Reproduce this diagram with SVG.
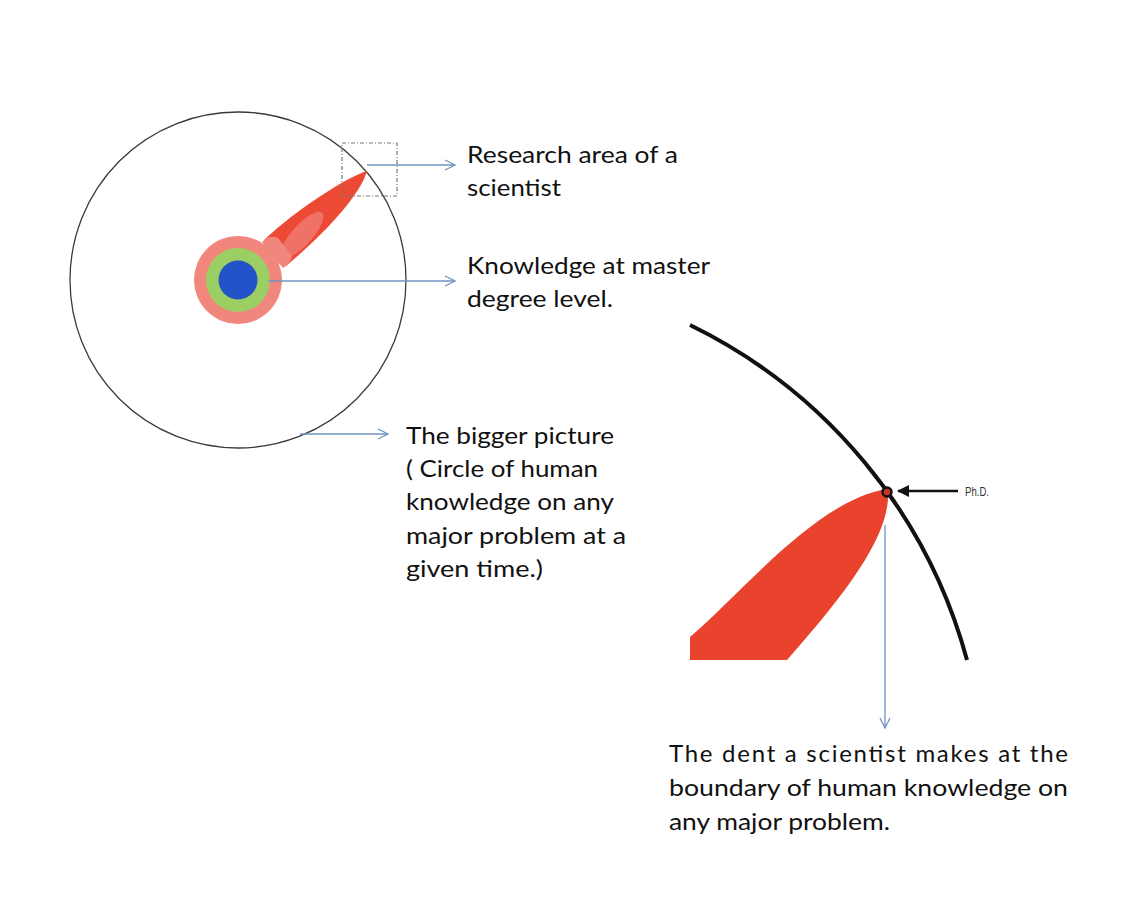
<svg xmlns="http://www.w3.org/2000/svg" width="1147" height="911" viewBox="0 0 1147 911">
<defs>
<style>
.lbl{font-family:Lato,"Open Sans","Liberation Sans",sans-serif;font-size:24px;fill:#111}
.conn{stroke:#6F93BF;stroke-width:1.3;fill:none}
</style>
<marker id="open" viewBox="0 0 12 12" refX="11" refY="6" markerWidth="12" markerHeight="12" markerUnits="userSpaceOnUse" orient="auto">
<path d="M1 1 L11 6 L1 11" fill="none" stroke="#6F93BF" stroke-width="1.3"/>
</marker>
<marker id="solid" viewBox="0 0 12 12" refX="11" refY="6" markerWidth="12" markerHeight="12" markerUnits="userSpaceOnUse" orient="auto">
<path d="M0 0 L12 6 L0 12 Z" fill="#111"/>
</marker>
</defs>
<rect width="1147" height="911" fill="#fff"/>

<g id="big-circle">
<circle cx="238" cy="280" r="168" fill="none" stroke="#3a3a3a" stroke-width="1.3"/>
</g>

<g id="research-beam">
<path d="M367 171 C350 176 300 206 264 240 Q270 262 286 266 C322 236 360 196 367 171 Z" fill="#EC4A35"/>
<ellipse cx="302" cy="235" rx="30" ry="10" transform="rotate(-48 302 235)" fill="#F07167"/>
</g>

<g id="master-knowledge">
<path d="M262 242 Q270 234 278 238 L292 256 Q290 264 283 268 Z" fill="#F1877C"/>
<circle cx="238" cy="280" r="44" fill="#F1877C"/>
<circle cx="238" cy="280" r="32" fill="#9BCF64"/>
<circle cx="238" cy="280" r="19.5" fill="#2452C9"/>
</g>

<g id="research-area-box">
<rect x="342" y="143" width="55" height="53" fill="none" stroke="#777" stroke-width="1.2" stroke-dasharray="4 2 1 2"/>
</g>

<g id="boundary-zoom">
<path d="M690 325 A525.5 525.5 0 0 1 967 660" fill="none" stroke="#111" stroke-width="4"/>
<path d="M690 637 C745 590 815 502 886 489 Q891 491 888 496 C888 540 840 600 787 660 L690 660 Z" fill="#E9432E"/>
<circle cx="887" cy="492" r="4.5" fill="#C63322" stroke="#111" stroke-width="2.5"/>
</g>

<g id="phd">
<line x1="958" y1="491" x2="898" y2="491" stroke="#111" stroke-width="2.5" marker-end="url(#solid)"/>
<text x="965" y="496" font-family="'Liberation Sans Narrow','Liberation Sans',sans-serif" font-size="13" fill="#333" textLength="24" lengthAdjust="spacingAndGlyphs">Ph.D.</text>
</g>

<g id="connectors">
<line class="conn" x1="367" y1="165" x2="455" y2="165" marker-end="url(#open)"/>
<line class="conn" x1="268" y1="281" x2="455" y2="281" marker-end="url(#open)"/>
<line class="conn" x1="300" y1="434" x2="388" y2="434" marker-end="url(#open)"/>
<line class="conn" x1="885" y1="525" x2="885" y2="728" marker-end="url(#open)"/>
</g>

<g id="label-research">
<text class="lbl" x="467" y="163" textLength="211" lengthAdjust="spacingAndGlyphs">Research area of a</text>
<text class="lbl" x="467" y="196" textLength="94" lengthAdjust="spacingAndGlyphs">scientist</text>
</g>
<g id="label-master">
<text class="lbl" x="467" y="274" textLength="243" lengthAdjust="spacingAndGlyphs">Knowledge at master</text>
<text class="lbl" x="467" y="307" textLength="146" lengthAdjust="spacingAndGlyphs">degree level.</text>
</g>
<g id="label-bigger">
<text class="lbl" x="406" y="444" textLength="208" lengthAdjust="spacingAndGlyphs">The bigger picture</text>
<text class="lbl" x="406" y="477" textLength="192" lengthAdjust="spacingAndGlyphs">( Circle of human</text>
<text class="lbl" x="406" y="510" textLength="208" lengthAdjust="spacingAndGlyphs">knowledge on any</text>
<text class="lbl" x="406" y="544" textLength="220" lengthAdjust="spacingAndGlyphs">major problem at a</text>
<text class="lbl" x="406" y="577" textLength="137" lengthAdjust="spacingAndGlyphs">given time.)</text>
</g>
<g id="label-dent">
<text class="lbl" x="669" y="762" textLength="399" lengthAdjust="spacing">The dent a scientist makes at the</text>
<text class="lbl" x="669" y="796" textLength="399" lengthAdjust="spacingAndGlyphs">boundary of human knowledge on</text>
<text class="lbl" x="669" y="830" textLength="221" lengthAdjust="spacingAndGlyphs">any major problem.</text>
</g>
</svg>
